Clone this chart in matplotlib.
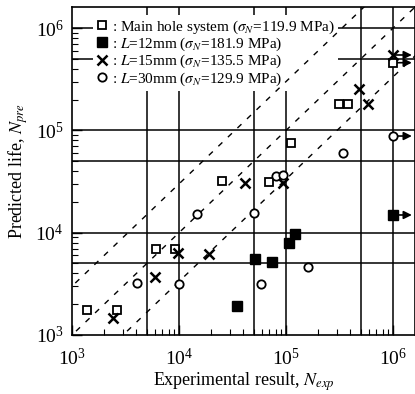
import numpy as np
import matplotlib
matplotlib.use("Agg")
import matplotlib.pyplot as plt
from matplotlib.ticker import LogLocator, NullFormatter

plt.rcParams['font.family'] = ['Liberation Serif', 'DejaVu Serif']
plt.rcParams['mathtext.fontset'] = 'stix'

# main hole system (open squares)
main_exp = [1390, 2620, 6100, 9180, 25100, 69800, 111000, 315000, 378000, 1.0e6]
main_pre = [1750, 1750, 6890, 6890, 32200, 31600, 74800, 181000, 181000, 459000]
# L = 12 mm (filled squares)
l12_exp = [34600, 51600, 73500, 107000, 121000, 1.0e6]
l12_pre = [1930, 5500, 5210, 7870, 9700, 14900]
# L = 15 mm (crosses)
l15_exp = [2400, 5970, 9850, 19200, 41400, 93100, 484000, 581000, 1.0e6]
l15_pre = [1460, 3720, 6300, 6190, 30800, 30800, 252000, 181000, 546000]
# L = 30 mm (open circles)
l30_exp = [4080, 10070, 14600, 50200, 58300, 80700, 94400, 161000, 343000, 1.0e6]
l30_pre = [3200, 3150, 15200, 15500, 3150, 35800, 36600, 4660, 59700, 88100]

# run-outs (did not fail): arrows to the right
runout_pre = [546000, 459000, 88100, 14900]
runout_exp = 1.0e6

labels = [
    r": Main hole system ($\sigma_N$=119.9 MPa)",
    r": $L$=12mm ($\sigma_N$=181.9 MPa)",
    r": $L$=15mm ($\sigma_N$=135.5 MPa)",
    r": $L$=30mm ($\sigma_N$=129.9 MPa)",
]

grid_vals = [5e3, 1e4, 5e4, 1e5, 5e5, 1e6]
band = [1 / 3, 1, 3]

fig = plt.figure(figsize=(4.15, 3.94), dpi=100)
ax = fig.add_axes([72 / 415, 59 / 394, 343 / 415, 328 / 394])
ax.set_xscale("log")
ax.set_yscale("log")
xmax = 10 ** (3 + 343 / 107)
ymax = 10 ** (3 + 328 / 102.3)
ax.set_xlim(1e3, xmax)
ax.set_ylim(1e3, ymax)

for g in grid_vals:
    ax.axvline(g, color="k", lw=1.1, zorder=1)
    ax.axhline(g, color="k", lw=1.1, zorder=1)

# scatter band: factor of 3 around the 1:1 line
xx = np.array([1e2, 1e7])
for f in band:
    ax.plot(xx, xx * f, color="k", lw=1.0, dashes=(4, 5.5), zorder=4.5)

ms = 6
ax.plot(main_exp, main_pre, ls="none", marker="s", ms=ms, mfc="white", mec="k", mew=1.3, label=labels[0], zorder=5)
ax.plot(l12_exp, l12_pre, ls="none", marker="s", ms=ms + 0.5, mfc="k", mec="k", label=labels[1], zorder=5)
ax.plot(l15_exp, l15_pre, ls="none", marker="x", ms=ms + 1, mec="k", mew=1.8, label=labels[2], zorder=5)
ax.plot(l30_exp, l30_pre, ls="none", marker="o", ms=ms, mfc="white", mec="k", mew=1.3, label=labels[3], zorder=5)

for y in runout_pre:
    ax.annotate("", xy=(runout_exp * 1.5, y), xytext=(runout_exp, y),
                arrowprops=dict(arrowstyle="-|>", color="k", lw=1.2, mutation_scale=12,
                                shrinkA=0, shrinkB=0),
                zorder=2)

leg = ax.legend(loc="upper left", bbox_to_anchor=(0.06, 0.975), frameon=True,
                fontsize=11, handlelength=0.8, handletextpad=0.25,
                labelspacing=0.0, borderpad=0.2, borderaxespad=0.0)
leg.get_frame().set_facecolor("white")
leg.get_frame().set_edgecolor("none")
leg.get_frame().set_alpha(1)
leg.set_zorder(4)

ax.xaxis.set_major_locator(LogLocator(base=10, numticks=10))
ax.yaxis.set_major_locator(LogLocator(base=10, numticks=10))
ax.xaxis.set_minor_locator(LogLocator(base=10, subs=np.arange(2, 10), numticks=10))
ax.yaxis.set_minor_locator(LogLocator(base=10, subs=np.arange(2, 10), numticks=10))
ax.xaxis.set_minor_formatter(NullFormatter())
ax.yaxis.set_minor_formatter(NullFormatter())
ax.tick_params(which="both", direction="in", top=False, right=False, labelsize=14)
ax.tick_params(which="major", length=7, width=1.0)
ax.tick_params(which="minor", length=4, width=0.8)
ax.tick_params(axis="x", pad=9)
ax.tick_params(axis="y", pad=6)

for s in ax.spines.values():
    s.set_linewidth(1.2)

ax.set_xlabel(r"Experimental result, $N_{exp}$", fontsize=13, labelpad=1)
ax.set_ylabel(r"Predicted life, $N_{pre}$", fontsize=13, labelpad=4)

fig.savefig("out.png", dpi=100)
